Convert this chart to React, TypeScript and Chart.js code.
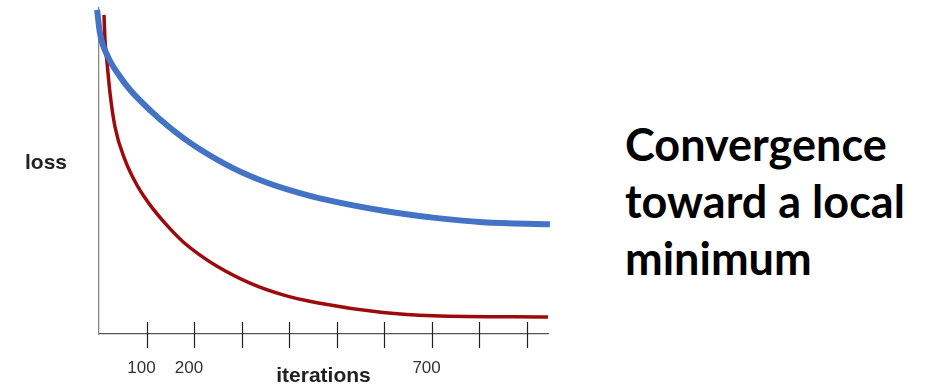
import React, { useEffect, useRef } from "react";
import { Chart, registerables } from "chart.js";

Chart.register(...registerables);

// iterations (x) and loss (y)
const blueIterations = [-4, 2, 19, 44, 67, 110, 145, 175, 213, 282, 354, 423, 465, 598, 703, 808, 949];
const blueLoss = [99.4, 92.3, 85.0, 79.0, 74.6, 68.3, 63.8, 60.4, 56.6, 50.9, 46.4, 43.2, 41.6, 37.8, 35.7, 34.3, 33.7];

const redIterations = [10.5, 12.6, 16.8, 23.2, 33.7, 54.7, 82.1, 107.3, 143.1, 176.8, 212.6, 248.4, 317.8, 387.3, 458.9, 597.8, 703, 945];
const redLoss = [97.9, 90.2, 83.4, 73.9, 63.5, 53.4, 45.1, 39.6, 33.3, 28.3, 24.2, 20.8, 15.6, 12.0, 9.6, 6.6, 5.6, 5.2];

const xTickValues = [100, 200, 300, 400, 500, 600, 700, 800, 900];
const xTickLabels: Record<number, string> = { 100: "100", 200: "200", 700: "700" };

const xAxisTitle = "iterations";
const yAxisTitle = "loss";
const headingLines = ["Convergence", "toward a local", "minimum"];

const tickMarksPlugin = {
  id: "crossTicks",
  afterDatasetsDraw(chart: any) {
    const x = chart.scales.x;
    const ctx = chart.ctx;
    const axisY = chart.chartArea.bottom;
    ctx.save();
    ctx.strokeStyle = "#222";
    ctx.lineWidth = 1.2;
    for (const v of xTickValues) {
      const px = Math.round(x.getPixelForValue(v)) + 0.5;
      ctx.beginPath();
      ctx.moveTo(px, axisY - 12);
      ctx.lineTo(px, axisY + 14);
      ctx.stroke();
    }
    ctx.restore();
  },
};

export default function App() {
  const ref = useRef<HTMLCanvasElement | null>(null);

  useEffect(() => {
    if (!ref.current) return;
    const chart = new Chart(ref.current, {
      type: "line",
      data: {
        datasets: [
          {
            label: "blue",
            data: blueIterations.map((x, i) => ({ x, y: blueLoss[i] })),
            borderColor: "#4472C4",
            borderWidth: 6,
            pointRadius: 0,
            cubicInterpolationMode: "monotone",
            fill: false,
            clip: false as any,
          },
          {
            label: "red",
            data: redIterations.map((x, i) => ({ x, y: redLoss[i] })),
            borderColor: "#9C0A0C",
            borderWidth: 3.5,
            pointRadius: 0,
            cubicInterpolationMode: "monotone",
            fill: false,
            clip: false as any,
          },
        ],
      },
      options: {
        responsive: false,
        maintainAspectRatio: false,
        animation: false,
        layout: { padding: { top: 8, right: 0, left: 0, bottom: 0 } },
        plugins: { legend: { display: false }, tooltip: { enabled: false } },
        scales: {
          x: {
            type: "linear",
            min: 0,
            max: 945,
            afterFit: (s: any) => {
              s.height = 53;
            },
            grid: { display: false, drawTicks: false },
            border: { display: true, color: "#555", width: 1.3 },
            ticks: {
              stepSize: 100,
              autoSkip: false,
              maxRotation: 0,
              padding: 24,
              labelOffset: -5,
              color: "#333",
              font: { family: "'Liberation Sans', Arial, sans-serif", size: 17 },
              callback: (v: any) => xTickLabels[v as number] ?? "",
            },
            title: {
              display: true,
              text: xAxisTitle,
              color: "#222",
              padding: { top: 0, bottom: -2 },
              font: { family: "'Liberation Sans', Arial, sans-serif", size: 21, weight: "bold" },
            },
          },
          y: {
            type: "linear",
            min: 0,
            max: 100,
            afterFit: (s: any) => {
              s.width = 99;
            },
            grid: { display: false, drawTicks: false },
            border: { display: true, color: "#888", width: 1.3 },
            ticks: { display: false },
          },
        },
      },
      plugins: [tickMarksPlugin],
    } as any);
    return () => chart.destroy();
  }, []);

  return (
    <div
      style={{
        position: "fixed",
        left: 0,
        top: 0,
        width: 936,
        height: 387,
        background: "#fff",
        overflow: "hidden",
      }}
    >
      <canvas
        ref={ref}
        width={572}
        height={387}
        style={{ position: "absolute", left: 0, top: 0, width: 572, height: 387 }}
      />
      <div
        style={{
          position: "absolute",
          left: 25,
          top: 151,
          font: "bold 21px 'Liberation Sans', Arial, sans-serif",
          lineHeight: "21px",
          color: "#222",
        }}
      >
        {yAxisTitle}
      </div>
      <div
        style={{
          position: "absolute",
          left: 625,
          top: 116,
          font: "bold 45px Lato, 'Open Sans', sans-serif",
          lineHeight: "57px",
          color: "#000",
          whiteSpace: "nowrap",
        }}
      >
        {headingLines.map((l, i) => (
          <div key={i}>{l}</div>
        ))}
      </div>
    </div>
  );
}
